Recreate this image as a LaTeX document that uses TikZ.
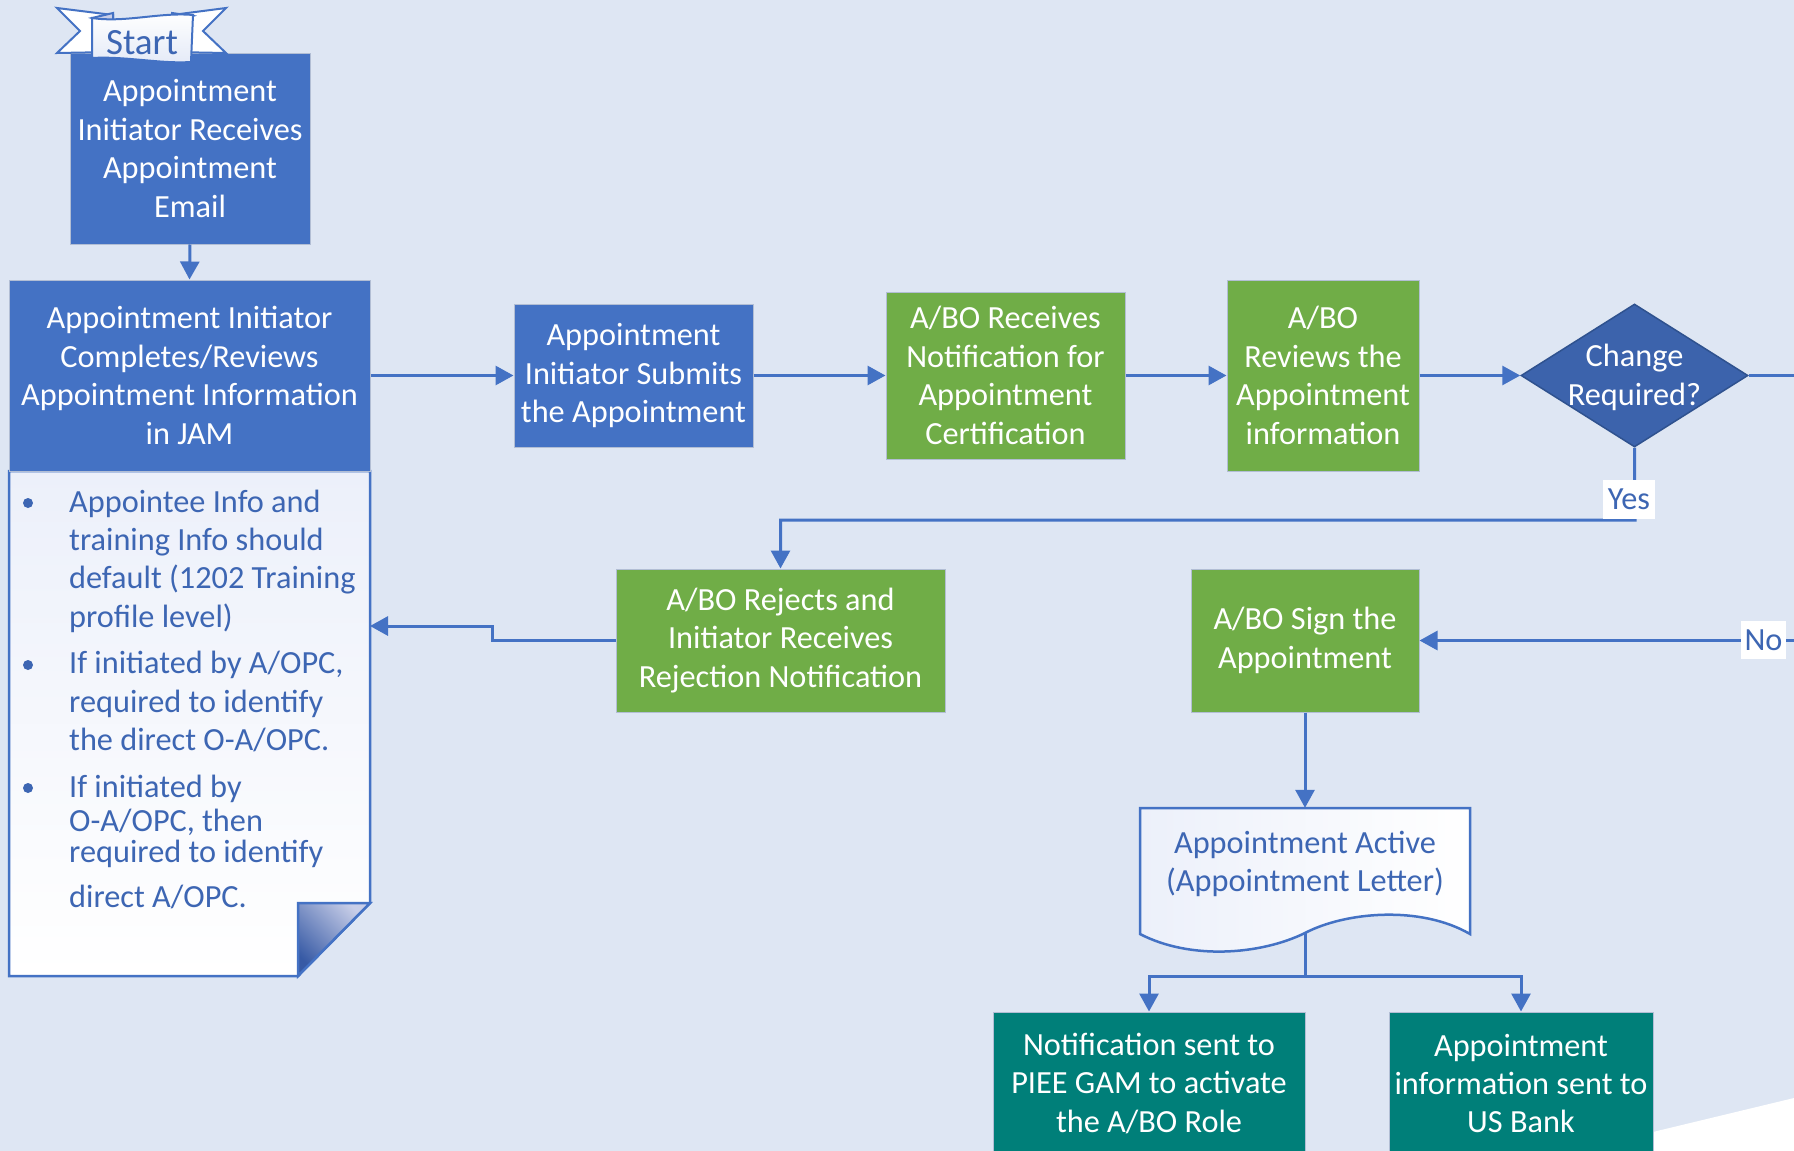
\documentclass[tikz,border=0pt]{standalone}
\usepackage{fontspec}
\setmainfont{Carlito}
\usetikzlibrary{shapes.geometric,arrows.meta}
\definecolor{bg}{RGB}{222,230,243}
\definecolor{ablue}{RGB}{68,114,196}
\definecolor{agreen}{RGB}{112,173,71}
\definecolor{dblue}{RGB}{60,99,172}
\definecolor{dborder}{RGB}{47,82,143}
\definecolor{ateal}{RGB}{0,127,121}
\definecolor{edgegray}{RGB}{178,190,212}
\definecolor{txtblue}{RGB}{61,102,179}
\definecolor{notetint}{RGB}{236,240,250}
\definecolor{foldlight}{RGB}{200,206,232}
\definecolor{foldmid}{RGB}{214,219,238}
\definecolor{folddark}{RGB}{55,90,165}
\definecolor{bannertint}{RGB}{228,234,247}
\begin{document}
\begin{tikzpicture}[x=1pt,y=-1pt,
  boxtext/.style={font=\fontsize{32.3}{38.4}\selectfont},
  procbox/.style={rectangle, draw=edgegray, line width=1pt, text=white, align=center, inner sep=0pt, boxtext},
  bluebox/.style={procbox, fill=ablue},
  greenbox/.style={procbox, fill=agreen},
  tealbox/.style={procbox, fill=ateal},
  conn/.style={draw=ablue, line width=3pt, -{Triangle[length=18pt,width=19pt]}},
  plainconn/.style={draw=ablue, line width=3pt},
  notetext/.style={anchor=base west, inner sep=0pt, text=txtblue, boxtext},
  lbl/.style={fill=white, text=txtblue, inner sep=0pt, boxtext}
]
% background
\path[use as bounding box, fill=bg] (0,0) rectangle (1794,1151);
\fill[white] (1574,1151) -- (1794,1098) -- (1794,1151) -- cycle;

% note (folded page) under box 2
\shade[top color=notetint, bottom color=white] (9,471) -- (370,471) -- (370,903) -- (298,976) -- (9,976) -- cycle;
\draw[ablue, line width=2.5pt, line join=miter] (9,471) -- (370,471) -- (370,903) -- (298,976) -- (9,976) -- cycle;
\shade[top color=foldlight, middle color=foldmid, bottom color=folddark, shading angle=-45] (298,903) -- (370,903) -- (298,976) -- cycle;
\draw[ablue, line width=2.5pt, line join=miter] (298,903) -- (370,903) -- (298,976) -- cycle;
\coordinate (noteR) at (370,626);

% bullets
\fill[txtblue] (28,503) circle (5);
\fill[txtblue] (28,665) circle (5);
\fill[txtblue] (28,788) circle (5);
\node[notetext] (n1a) at (69,512) {Appointee Info and};
\node[notetext] (n1b) at (69,550) {training Info should};
\node[notetext] (n1c) at (69,588) {default (1202 Training};
\node[notetext] (n1d) at (69,627) {profile level)};
\node[notetext] (n2a) at (69,673) {If initiated by A/OPC,};
\node[notetext] (n2b) at (69,712) {required to identify};
\node[notetext] (n2c) at (69,750) {the direct O-A/OPC.};
\node[notetext] (n3a) at (69,797) {If initiated by};
\node[notetext] (n3b) at (69,831) {O-A/OPC, then};
\node[notetext] (n3c) at (69,862) {required to identify};
\node[notetext] (n3d) at (69,907) {direct A/OPC.};

% process boxes
\node[bluebox, minimum width=240, minimum height=191] (b1) at (190,148.5) {Appointment\\Initiator Receives\\Appointment\\Email};
\node[bluebox, minimum width=361, minimum height=191] (b2) at (189.5,375.5) {Appointment Initiator\\Completes/Reviews\\Appointment Information\\in JAM};
\node[bluebox, minimum width=239, minimum height=143] (b3) at (633.5,375.5) {Appointment\\Initiator Submits\\the Appointment};
\node[greenbox, minimum width=239, minimum height=167] (b4) at (1005.5,375.5) {A/BO Receives\\Notification for\\Appointment\\Certification};
\node[greenbox, minimum width=192, minimum height=191] (b5) at (1323,375.5) {A/BO\\Reviews the\\Appointment\\information};
\node[diamond, fill=dblue, draw=dborder, line width=1.5pt, minimum width=227, minimum height=143, inner sep=0pt] (dia) at (1634.5,375.5) {};
\node[text=white, align=center, inner sep=0pt, boxtext] (diat) at (1634.5,377.5) {Change\\Required?};
\node[greenbox, minimum width=329, minimum height=143] (b6) at (780.5,640.5) {A/BO Rejects and\\Initiator Receives\\Rejection Notification};
\node[greenbox, minimum width=228, minimum height=143] (b7) at (1305,640.5) {A/BO Sign the\\Appointment};

% document shape
\node[minimum width=330, minimum height=126, inner sep=0pt] (doc) at (1305,871) {};
\shade[left color=notetint, right color=white]
  (1140,808) -- (1470,808) -- (1470,934) .. controls (1420,905) and (1345,912) .. (1305,933)
  .. controls (1260,955) and (1190,960) .. (1140,934) -- cycle;
\draw[ablue, line width=2.5pt, line join=miter]
  (1140,808) -- (1470,808) -- (1470,934) .. controls (1420,905) and (1345,912) .. (1305,933)
  .. controls (1260,955) and (1190,960) .. (1140,934) -- cycle;
\node[text=txtblue, align=center, inner sep=0pt, boxtext] (doct) at (1305,864) {Appointment Active\\(Appointment Letter)};
\coordinate (docb) at (1305,933);

\node[tealbox, minimum width=312, minimum height=143] (b8) at (1149,1083.5) {Notification sent to\\PIEE GAM to activate\\the A/BO Role};
\node[tealbox, minimum width=264, minimum height=143] (b9) at (1521,1083.5) {Appointment\\information sent to\\US Bank};

% start banner
\begin{scope}[line width=2pt, draw=ablue, line join=miter]
\filldraw[fill=white, draw=ablue] (57,8) -- (113,15) -- (113,52) -- (57,53) -- (80,31) -- cycle;
\filldraw[fill=white, draw=ablue] (226,8) -- (172,15) -- (172,52) -- (226,53) -- (203,31) -- cycle;
\filldraw[fill=foldlight, draw=ablue] (92,18) -- (113,13) -- (113,24) -- cycle;
\filldraw[fill=foldlight, draw=ablue] (193,16) -- (172,13) -- (172,24) -- cycle;
\shade[top color=white, bottom color=bannertint] (92,18) .. controls (125,23) and (160,12) .. (193,15) -- (191,62) .. controls (160,64) and (125,56) .. (92,58) -- cycle;
\draw[ablue] (92,18) .. controls (125,23) and (160,12) .. (193,15) -- (191,62) .. controls (160,64) and (125,56) .. (92,58) -- cycle;
\end{scope}
\node[text=txtblue, inner sep=0pt, font=\fontsize{37}{40}\selectfont] (start) at (142,43) {Start};

% connectors
\draw[conn] (b1.south) -- (b2.north);
\draw[conn] (b2.east) -- (b3.west);
\draw[conn] (b3.east) -- (b4.west);
\draw[conn] (b4.east) -- (b5.west);
\draw[conn] (b5.east) -- (dia.west);

\coordinate (offA) at (1830,375.5);
\coordinate (offB) at (1830,640.5);
\draw[conn] (dia.east) -- (offA) -- (offB) -- (b7.east);
\node[lbl, minimum width=45, minimum height=38] (nolbl) at (1763.5,640) {No};

\coordinate (yk) at (1635,520);
\draw[conn] (dia.south) -- (yk) -| (b6.north);
\node[lbl, minimum width=52, minimum height=39] (yeslbl) at (1629,499.5) {Yes};

\coordinate (rj1) at (492,640.5);
\coordinate (rj2) at (492,626);
\draw[conn] (b6.west) -- (rj1) -- (rj2) -- (noteR);

\draw[conn] (b7.south) -- (doc.north);
\coordinate (split) at (1305,976);
\draw[plainconn] (docb) -- (split);
\draw[conn] (split) -| (b8.north);
\draw[conn] (split) -| (b9.north);
\end{tikzpicture}
\end{document}
